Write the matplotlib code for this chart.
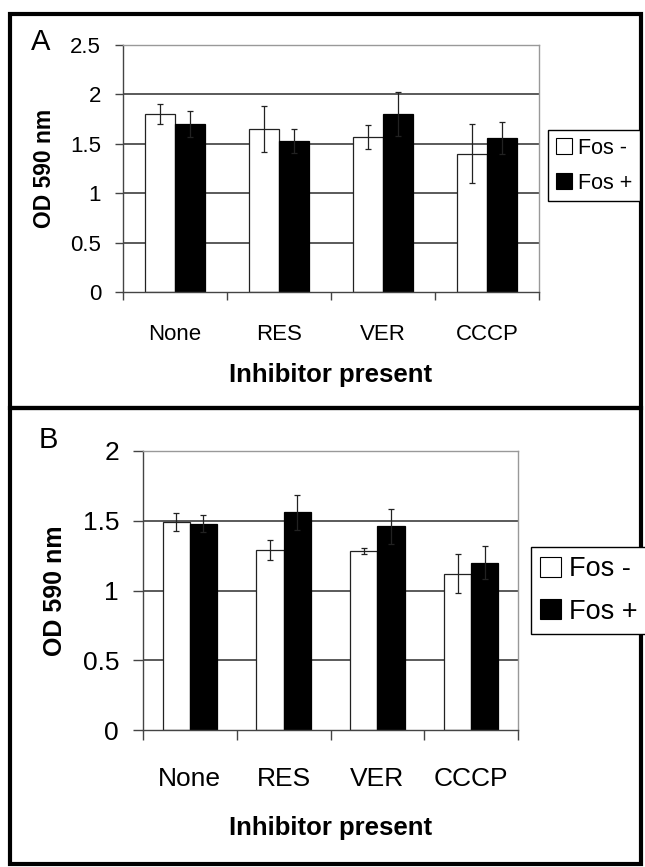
import matplotlib
matplotlib.use("Agg")
import matplotlib.pyplot as plt
import matplotlib.patches as mpatches
from matplotlib import font_manager
import numpy as np

names = {f.name for f in font_manager.fontManager.ttflist}
FONT = "Liberation Sans Narrow" if "Liberation Sans Narrow" in names else "Liberation Sans"
plt.rcParams['font.family'] = [FONT, 'DejaVu Sans']

categories = ["None", "RES", "VER", "CCCP"]
series_names = ["Fos -", "Fos +"]

a_fos_minus = [1.80, 1.65, 1.57, 1.40]
a_fos_minus_err = [0.10, 0.23, 0.12, 0.30]
a_fos_plus = [1.70, 1.53, 1.80, 1.56]
a_fos_plus_err = [0.13, 0.12, 0.22, 0.16]

b_fos_minus = [1.49, 1.29, 1.285, 1.12]
b_fos_minus_err = [0.065, 0.07, 0.022, 0.14]
b_fos_plus = [1.48, 1.56, 1.46, 1.20]
b_fos_plus_err = [0.063, 0.125, 0.125, 0.12]

a_yticks = [0, 0.5, 1, 1.5, 2, 2.5]
a_yticklabels = ["0", "0.5", "1", "1.5", "2", "2.5"]
b_yticks = [0, 0.5, 1, 1.5, 2]
b_yticklabels = ["0", "0.5", "1", "1.5", "2"]

W, H = 645, 867
fig = plt.figure(figsize=(W / 100, H / 100), dpi=100)


def fx(px):
    return px / W


def fy(py):
    return 1 - py / H


def panel(rect, minus, minus_err, plus, plus_err, ymax, yticks, yticklabels,
          fs_tick, fs_ylabel, fs_xlabel, tick_len_px, cat_pad, ylabel_x, xlabel_y,
          legend_rect, fs_leg, leg_spacing, handle_sz):
    l, t, r, b = rect
    ax = fig.add_axes([fx(l), fy(b), fx(r) - fx(l), fy(t) - fy(b)])
    x = np.arange(len(categories))
    w = 0.29
    ax.set_xlim(-0.5, len(categories) - 0.5)
    ax.set_ylim(0, ymax)
    for yv in yticks[1:-1]:
        ax.axhline(yv, color='#2e2e2e', lw=1.1, zorder=1)
    ax.bar(x - w / 2, minus, w, color='white', edgecolor='#222222', lw=0.9, zorder=2)
    ax.bar(x + w / 2, plus, w, color='black', edgecolor='black', lw=0.9, zorder=2)
    ax.errorbar(x - w / 2, minus, yerr=minus_err, fmt='none', ecolor='#222222',
                elinewidth=0.9, capsize=2.2, capthick=0.9, zorder=3)
    ax.errorbar(x + w / 2, plus, yerr=plus_err, fmt='none', ecolor='#222222',
                elinewidth=0.9, capsize=2.2, capthick=0.9, zorder=3)
    for s in ['left', 'bottom']:
        ax.spines[s].set_color('#444444')
        ax.spines[s].set_linewidth(1.0)
    for s in ['top', 'right']:
        ax.spines[s].set_color('#999999')
        ax.spines[s].set_linewidth(1.0)
    ax.set_yticks(yticks)
    ax.set_yticklabels(yticklabels, fontsize=fs_tick)
    tl = tick_len_px * 0.72
    ax.tick_params(axis='y', direction='out', length=tl, width=1.0, color='#444444', pad=10)
    ax.set_xticks(np.arange(len(categories) + 1) - 0.5)
    ax.set_xticklabels([])
    ax.tick_params(axis='x', which='major', direction='out', length=tl, width=1.0, color='#444444')
    ax.set_xticks(x, minor=True)
    ax.set_xticklabels(categories, minor=True, fontsize=fs_tick)
    ax.tick_params(axis='x', which='minor', length=0, pad=cat_pad)
    ax.set_ylabel("OD 590 nm", fontsize=fs_ylabel, fontweight='bold')
    ax.yaxis.set_label_coords(ylabel_x, 0.5)
    ax.yaxis.label.set_va('center')
    ax.set_xlabel("Inhibitor present", fontsize=fs_xlabel, fontweight='bold')
    ax.xaxis.set_label_coords(0.5, xlabel_y)
    ax.xaxis.label.set_va('center')
    handles = [mpatches.Patch(facecolor='white', edgecolor='black', lw=0.8),
               mpatches.Patch(facecolor='black', edgecolor='black', lw=0.8)]
    ll, lt = legend_rect
    leg = fig.legend(handles, series_names, loc='upper left',
                     bbox_to_anchor=(fx(ll), fy(lt)), borderaxespad=0,
                     fontsize=fs_leg, fancybox=False, framealpha=1, edgecolor='black',
                     handlelength=handle_sz, handleheight=handle_sz, handletextpad=0.3,
                     labelspacing=leg_spacing, borderpad=0.35)
    leg.get_frame().set_linewidth(1.0)
    return ax


panel((123, 45, 539, 292), a_fos_minus, a_fos_minus_err, a_fos_plus, a_fos_plus_err,
      2.5, a_yticks, a_yticklabels, fs_tick=16, fs_ylabel=16.5, fs_xlabel=18.5,
      tick_len_px=8, cat_pad=23, ylabel_x=-0.188, xlabel_y=-0.336,
      legend_rect=(548, 130), fs_leg=15.5, leg_spacing=0.65, handle_sz=0.75)

panel((143, 451, 518, 730), b_fos_minus, b_fos_minus_err, b_fos_plus, b_fos_plus_err,
      2.0, b_yticks, b_yticklabels, fs_tick=19, fs_ylabel=18, fs_xlabel=18.5,
      tick_len_px=10, cat_pad=27, ylabel_x=-0.235, xlabel_y=-0.351,
      legend_rect=(531, 547), fs_leg=19.5, leg_spacing=0.6, handle_sz=0.75)

fig.text(fx(41), fy(42), "A", fontsize=21, ha='center', va='center')
fig.text(fx(48), fy(440), "B", fontsize=21, ha='center', va='center')

for (l, t, r, b) in [(10, 14, 641, 408), (10, 408, 641, 864)]:
    fig.add_artist(mpatches.Rectangle((fx(l), fy(b)), fx(r) - fx(l), fy(t) - fy(b),
                                      transform=fig.transFigure, fill=False,
                                      edgecolor='black', lw=3.0))

fig.savefig("out.png", dpi=100)
